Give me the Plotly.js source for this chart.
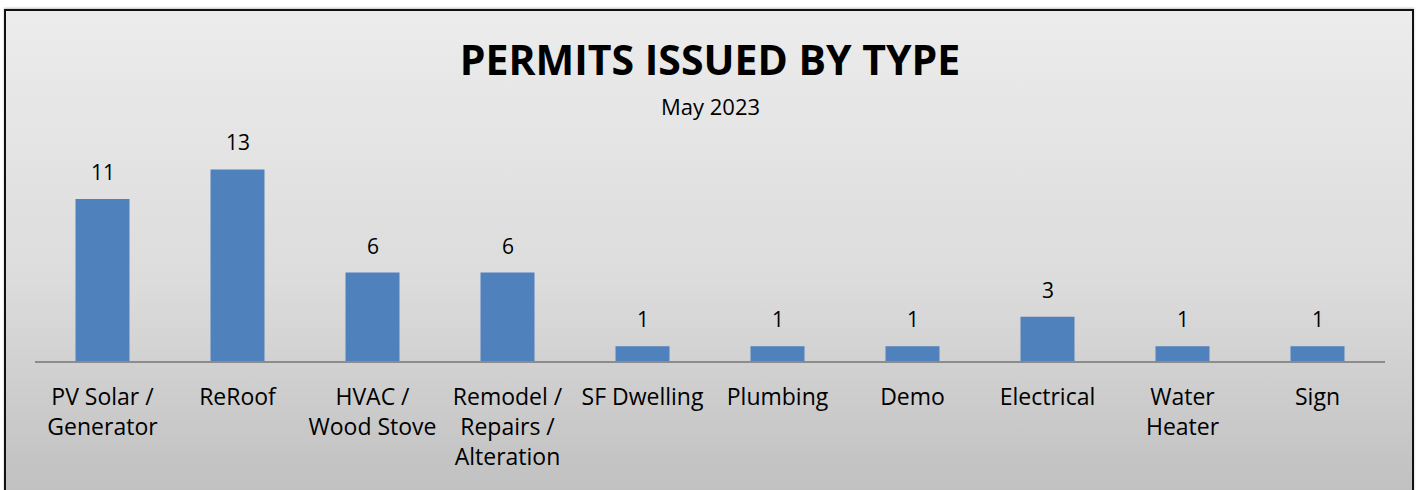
<!DOCTYPE html>
<html>
<head>
<meta charset="utf-8">
<script src="https://cdn.plot.ly/plotly-3.0.1.min.js"></script>
<style>
  html, body { margin: 0; padding: 0; width: 1418px; height: 490px; overflow: hidden; background: #ffffff; }
  #frame {
    position: absolute; left: 4px; top: 9px; width: 1406px; height: 490px;
    border: 2px solid #111; border-bottom: none;
    background: linear-gradient(to bottom, #ececec 0%, #dcdcdc 55%, #bfbfbf 100%);
    box-shadow: 0 -1px 2px rgba(0,0,0,0.25);
  }
  #chart { position: absolute; left: 0; top: 0; width: 1418px; height: 490px; }
</style>
</head>
<body>
<div id="frame"></div>
<div id="chart"></div>
<script>
const categories = ["PV Solar /<br>Generator", "ReRoof", "HVAC /<br>Wood Stove", "Remodel /<br>Repairs /<br>Alteration", "SF Dwelling", "Plumbing", "Demo", "Electrical", "Water<br>Heater", "Sign"];
const permits = [11, 13, 6, 6, 1, 1, 1, 3, 1, 1];
const chartTitle = "PERMITS ISSUED BY TYPE";
const chartSubtitle = "May 2023";

const fontFam = "'Open Sans', Lato, sans-serif";

const trace = {
  type: "bar",
  x: categories,
  y: permits,
  marker: { color: "#4f81bd" },
  width: 0.4,
  hoverinfo: "x+y"
};

const annotations = categories.map((c, i) => ({
  x: c, y: permits[i], xref: "x", yref: "y",
  text: String(permits[i]), showarrow: false,
  yanchor: "middle", yshift: 27,
  font: { family: fontFam, size: 21, color: "#000" }
}));

annotations.push({
  xref: "paper", yref: "paper", x: 0.5, y: 1, yanchor: "middle", yshift: 34,
  text: chartSubtitle, showarrow: false,
  font: { family: fontFam, size: 22, color: "#000" }
});

const layout = {
  width: 1418, height: 490,
  paper_bgcolor: "rgba(0,0,0,0)",
  plot_bgcolor: "rgba(0,0,0,0)",
  margin: { l: 35, r: 33, t: 140, b: 129, pad: 0 },
  title: {
    text: "<b>" + chartTitle + "</b>",
    x: 0.5, xref: "paper", xanchor: "center",
    y: 1 - 61 / 490, yref: "container", yanchor: "middle",
    font: { family: fontFam, size: 41, color: "#000" }
  },
  showlegend: false,
  xaxis: {
    type: "category",
    showline: true, linecolor: "#8c8c8c", linewidth: 1.5,
    ticks: "", showgrid: false, zeroline: false,
    tickfont: { family: fontFam, size: 23, color: "#000" },
    ticklabelstandoff: 15,
    fixedrange: true
  },
  yaxis: {
    range: [0, 15], visible: false, showgrid: false, zeroline: false, fixedrange: true
  },
  annotations: annotations
};

Plotly.newPlot("chart", [trace], layout, { displayModeBar: false, staticPlot: true });
</script>
</body>
</html>
